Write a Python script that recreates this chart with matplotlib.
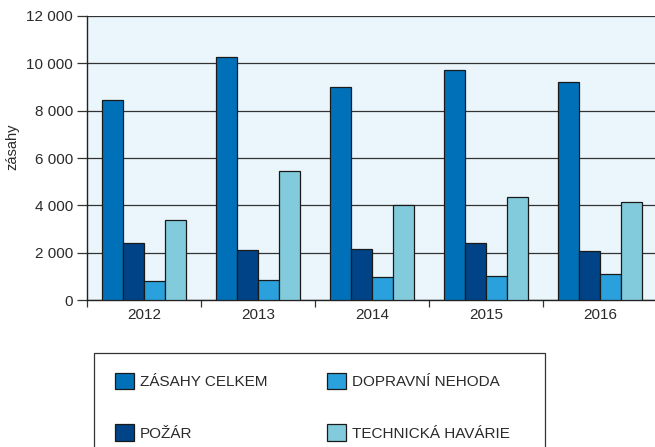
import numpy as np
import matplotlib
matplotlib.use("Agg")
import matplotlib.pyplot as plt
from matplotlib.ticker import FuncFormatter, FixedLocator
from matplotlib.patches import Rectangle

plt.rcParams['font.family'] = ['Liberation Sans', 'DejaVu Sans']

years = ['2012', '2013', '2014', '2015', '2016']
zasahy_celkem = [8450, 10260, 8990, 9710, 9200]
pozar = [2420, 2110, 2170, 2420, 2070]
dopravni_nehoda = [800, 850, 960, 1000, 1100]
technicka_havarie = [3380, 5450, 4030, 4340, 4140]

series = [
    ('ZÁSAHY CELKEM', zasahy_celkem, '#0071b9'),
    ('POŽÁR', pozar, '#004386'),
    ('DOPRAVNÍ NEHODA', dopravni_nehoda, '#2aa1dc'),
    ('TECHNICKÁ HAVÁRIE', technicka_havarie, '#82cbdc'),
]

W, H = 655, 447
fig = plt.figure(figsize=(W / 100, H / 100), dpi=100)
ax = fig.add_axes([87 / W, 147 / H, 570 / W, 284 / H])
ax.set_facecolor('#eaf6fc')

x = np.arange(len(years)) + 0.5
w = 0.1825
handles = []
for i, (name, vals, col) in enumerate(series):
    b = ax.bar(x + (i - 1.5) * w, vals, w, color=col, edgecolor='#1a1a1a',
               linewidth=0.9, label=name, zorder=3)
    handles.append(b)

ax.set_xlim(0, len(years))
ax.set_ylim(0, 12000)
ax.set_yticks(range(0, 12001, 2000))
ax.yaxis.set_major_formatter(FuncFormatter(lambda v, p: f'{int(v):,}'.replace(',', ' ')))
ax.grid(axis='y', color='#333333', linewidth=0.9, zorder=1)

ax.xaxis.set_major_locator(FixedLocator(np.arange(len(years) + 1)))
ax.xaxis.set_minor_locator(FixedLocator(x))
ax.set_xticklabels([])
ax.set_xticklabels(years, minor=True)
ax.tick_params(axis='x', which='major', length=5, width=0.9, color='#333333')
ax.tick_params(axis='x', which='minor', length=0, pad=6, labelsize=11, labelcolor='#2a2a2a')
ax.tick_params(axis='y', length=7, width=0.9, color='#333333', labelsize=11,
               labelcolor='#2a2a2a', pad=3)

for s in ['top', 'right']:
    ax.spines[s].set_visible(False)
for s in ['left', 'bottom']:
    ax.spines[s].set_color('#222222')
    ax.spines[s].set_linewidth(1.0)

ax.set_ylabel('zásahy', fontsize=10.5, color='#2a2a2a')
ax.yaxis.set_label_coords(-0.119, 0.54)

fig.patches.append(Rectangle((94 / W, -0.05), 451 / W, (H - 353) / H + 0.05,
                             transform=fig.transFigure, fill=False,
                             edgecolor='#333333', linewidth=0.9))

fig.legend(handles=handles, loc='upper left', bbox_to_anchor=(115 / W, 1 - 373 / H),
           ncol=2, frameon=False, fontsize=11, handlelength=1.25, handleheight=1.25,
           handletextpad=0.4, columnspacing=3.85, labelspacing=2.3,
           borderaxespad=0, borderpad=0, labelcolor='#2a2a2a')

fig.savefig('out.png', dpi=100)
